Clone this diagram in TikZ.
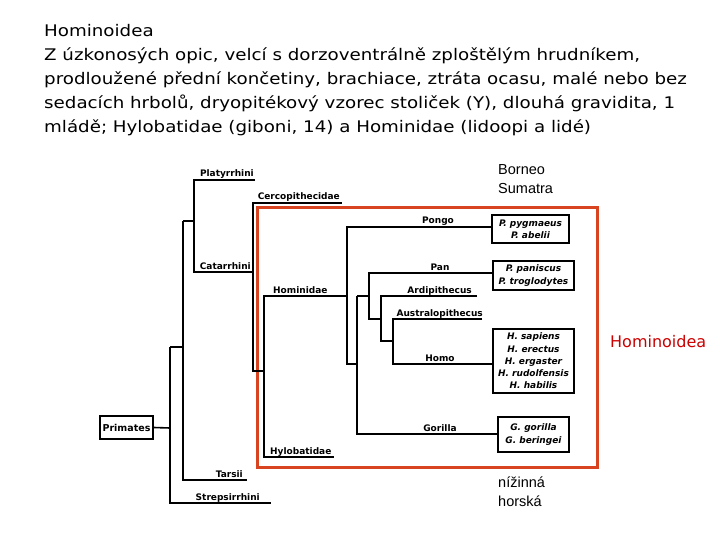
\documentclass[tikz,border=0pt]{standalone}
\usepackage{fontspec}
\setmainfont{DejaVu Sans}
\newfontfamily\arialf{Liberation Sans}
\newfontfamily\ttlf[FakeStretch=1.14]{DejaVu Sans}
\begin{document}
\begin{tikzpicture}[x=1pt,y=-1pt,
  tline/.style={line width=1.6pt,black},
  lbl/.style={font=\fontsize{9}{10}\selectfont\bfseries,inner sep=0pt,anchor=base},
  spbox/.style={draw,line width=1.4pt,font=\fontsize{9}{12.3}\selectfont\bfseries\itshape,align=center,inner sep=0pt},
  ttl/.style={font=\ttlf\fontsize{16}{18}\selectfont,inner sep=0pt,anchor=base west},
  note/.style={font=\arialf\fontsize{14.5}{17}\selectfont,inner sep=0pt,anchor=base west}]
\useasboundingbox (0,0) rectangle (720,540);
\fill[white] (0,0) rectangle (720,540);
% title
\node[ttl] (t1) at (44,37) {Hominoidea};
\node[ttl] (t2) at (44,61) {Z úzkonosých opic, velcí s dorzoventrálně zploštělým hrudníkem,};
\node[ttl] (t3) at (44,85) {prodloužené přední končetiny, brachiace, ztráta ocasu, malé nebo bez};
\node[ttl] (t4) at (44,109) {sedacích hrbolů, dryopitékový vzorec stoliček (Y), dlouhá gravidita, 1};
\node[ttl] (t5) at (44,133) {mládě; Hylobatidae (giboni, 14) a Hominidae (lidoopi a lidé)};
% notes
\node[note] (bor) at (498,175) {Borneo};
\node[note] (sum) at (498,194) {Sumatra};
\node[note] (niz) at (498,487) {nížinná};
\node[note] (hor) at (498,506) {horská};
\node[font=\fontsize{16}{18}\selectfont,text=red!80!black,anchor=base west,inner sep=0pt] (hoid) at (610,347) {Hominoidea};
% red box
\draw[line width=3pt,color={rgb,255:red,216;green,68;blue,32}] (257,208) rectangle (597,467);
% Primates box
\node[draw,line width=1.4pt,font=\fontsize{9.5}{10}\selectfont\bfseries,minimum width=53pt,minimum height=23pt,inner sep=0pt] (prim) at (126.5,427.5) {Primates};
% species boxes
\node[spbox,minimum width=77pt,minimum height=28pt] (pongob) at (530.5,229) {P. pygmaeus\\P. abelii};
\node[spbox,minimum width=81pt,minimum height=29pt] (panb) at (533.5,275.5) {P. paniscus\\P. troglodytes};
\node[spbox,minimum width=81pt,minimum height=64pt] (homob) at (533.5,361) {H. sapiens\\H. erectus\\H. ergaster\\H. rudolfensis\\H. habilis};
\node[spbox,minimum width=71pt,minimum height=35pt] (gorb) at (533.5,434.5) {G. gorilla\\G. beringei};
% junction coordinates
\coordinate (j0) at (170,428);
\coordinate (j1) at (183,347);
\coordinate (j2) at (194,221);
\coordinate (j3) at (253,272);
\coordinate (j4) at (264,371);
\coordinate (j5) at (347,296);
\coordinate (j6) at (357,364);
\coordinate (j7) at (369,296);
\coordinate (j8) at (381,319);
\coordinate (j9) at (393,341);
% leaf ends
\coordinate (ePla) at (255,180);
\coordinate (eCer) at (342,203);
\coordinate (eHyl) at (334,457);
\coordinate (eTar) at (247,480);
\coordinate (eStr) at (271,503);
\coordinate (eArd) at (477,296);
\coordinate (eAus) at (482,319);
% tree lines
\draw[tline] (prim.east) -- (j0);
\draw[tline] (170,347) -- (j1);
\draw[tline] (170,347) -- (170,503) -- (eStr);
\draw[tline] (183,221) -- (183,480) -- (eTar);
\draw[tline] (183,221) -- (j2);
\draw[tline] (ePla) -- (194,180) -- (194,272) -- (j3);
\draw[tline] (eCer) -- (253,203) -- (253,371) -- (j4);
\draw[tline] (j5) -- (264,296) -- (264,457) -- (eHyl);
\draw[tline] (pongob.west |- 0,227) -- (347,227) -- (347,364) -- (j6);
\draw[tline] (357,296) -- (j7);
\draw[tline] (gorb.west |- 0,434) -- (357,434) -- (357,296);
\draw[tline] (panb.west |- 0,273) -- (369,273) -- (369,319) -- (j8);
\draw[tline] (eArd) -- (381,296) -- (381,341) -- (j9);
\draw[tline] (eAus) -- (393,319) -- (393,364) -- (homob.west |- 0,364);
% labels
\node[lbl,anchor=base east] (lPla) at (254,177) {Platyrrhini};
\node[lbl,anchor=base east] (lCer) at (340,200) {Cercopithecidae};
\node[lbl,anchor=base east] (lCat) at (251,269.5) {Catarrhini};
\node[lbl,anchor=base west] (lHom) at (273,293) {Hominidae};
\node[lbl] (lPon) at (438,224) {Pongo};
\node[lbl] (lPan) at (440,270) {Pan};
\node[lbl,anchor=base east] (lArd) at (472,293) {Ardipithecus};
\node[lbl,anchor=base east] (lAus) at (483,316) {Australopithecus};
\node[lbl] (lHomo) at (440,361) {Homo};
\node[lbl] (lGor) at (440,431) {Gorilla};
\node[lbl,anchor=base west] (lHyl) at (270,454) {Hylobatidae};
\node[lbl,anchor=base east] (lTar) at (243,477) {Tarsii};
\node[lbl,anchor=base east] (lStr) at (260,500) {Strepsirrhini};
\end{tikzpicture}
\end{document}
